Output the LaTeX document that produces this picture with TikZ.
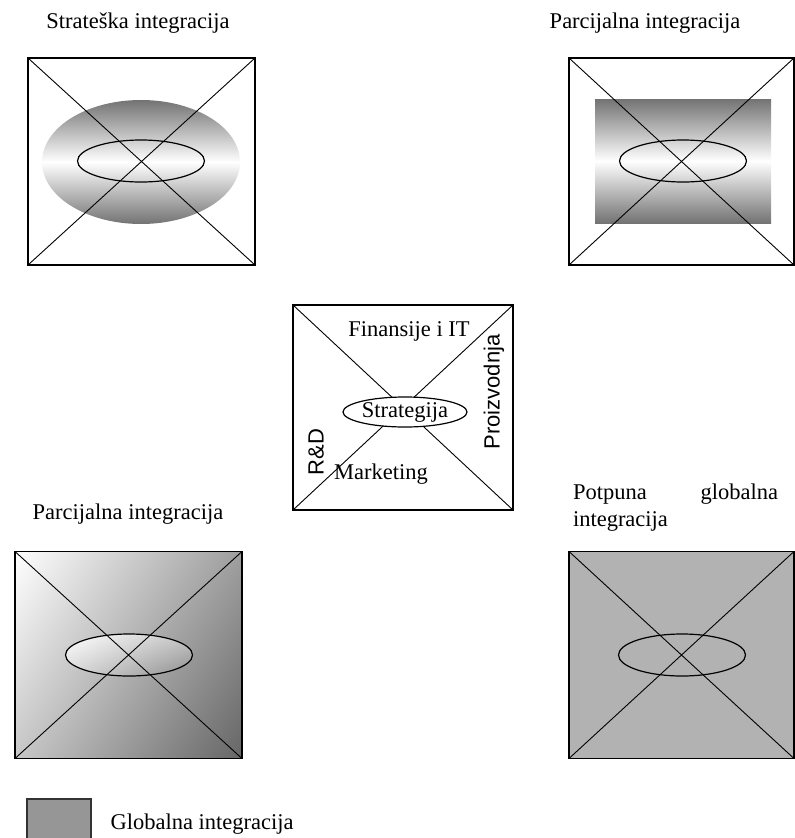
\documentclass[tikz,border=0pt]{standalone}
\usepackage{fontspec}
\setmainfont{Liberation Serif}
\newfontfamily\arialfont{Liberation Sans}
\usetikzlibrary{positioning,shapes.geometric,shadings}

\begin{document}
\begin{tikzpicture}[x=1pt, y=-1pt, every node/.style={font=\fontsize{22.5}{27}\selectfont}, sq/.style={draw, line width=1.2pt, inner sep=0pt, outer sep=0pt, minimum width=227pt, minimum height=207pt}, diag/.style={line width=0.9pt}, core/.style={draw, ellipse, line width=1.2pt, inner sep=0pt, outer sep=0pt, minimum width=127pt, minimum height=42pt}, band/.style={top color=black!55, bottom color=black!55, middle color=white, inner sep=0pt}, slope/.style={shade, upper left=white, lower right=black!60, upper right=black!38, lower left=black!22}, side/.style={font=\arialfont\fontsize{22}{27}\selectfont, rotate=90}]
\useasboundingbox (0,0) rectangle (795,838);
% strateska
\node (stratTitle) at (138,23) {Strateška integracija};
\node[sq] (strat) at (141.5,161.5) {};
\node[band, ellipse, minimum width=198pt, minimum height=124pt] (stratBand) at (141,162) {};
\draw[diag] (strat.north west) -- (strat.south east) (strat.north east) -- (strat.south west);
\node[core] (stratCore) at (141,161) {};
% parcijalna, gore
\node (partTitle) at (645,23) {Parcijalna integracija};
\node[sq, minimum width=225pt] (part) at (681.5,161.5) {};
\node[band, minimum width=176pt, minimum height=124pt] (partBand) at (683,161) {};
\draw[diag] (part.north west) -- (part.south east) (part.north east) -- (part.south west);
\node[core] (partCore) at (683,161) {};
% sredina
\node[sq, minimum width=220pt, minimum height=205pt] (hub) at (403,407.5) {};
\draw[diag] (hub.north west) -- (hub.south east) (hub.north east) -- (hub.south west);
\node[core, fill=white, minimum width=124pt, minimum height=30pt] (hubCore) at (405,412) {Strategija};
\node (fin) at (409,331) {Finansije i IT};
\node[side] (prod) at (494,392) {Proizvodnja};
\node[side] (rnd) at (316,452) {R\&D};
\node (mkt) at (381,474) {Marketing};
% parcijalna, dole
\node (slopeTitle) at (128,514) {Parcijalna integracija};
\node[sq, slope] (slope) at (128.5,655) {};
\node[core, shade, upper left=white, lower right=black!45, upper right=black!22, lower left=black!15] (slopeCore) at (129,655) {};
\draw[diag] (slope.north west) -- (slope.south east) (slope.north east) -- (slope.south west);
% potpuna
\node[text width=205pt, inner sep=0pt, align=left] (fullTitle) at (675.5,508) {Potpuna\hfill globalna\\integracija};
\node[sq, fill=black!30, minimum width=225pt] (full) at (681.5,655) {};
\draw[diag] (full.north west) -- (full.south east) (full.north east) -- (full.south west);
\node[core] (fullCore) at (682,655) {};
% legenda
\node[draw=black!80, line width=1.2pt, fill=black!41, minimum width=64pt, minimum height=44pt, inner sep=0pt, outer sep=0pt] (key) at (59,821) {};
\node[right=16pt of key, yshift=-3pt] (keyText) {Globalna integracija};
\end{tikzpicture}
\end{document}
